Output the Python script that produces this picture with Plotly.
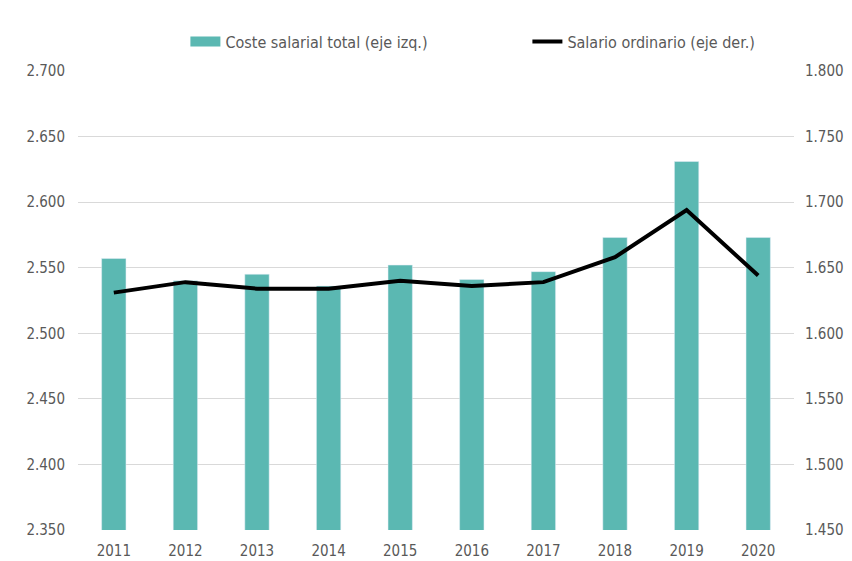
import plotly.graph_objects as go

# Data
years = ["2011", "2012", "2013", "2014", "2015", "2016", "2017", "2018", "2019", "2020"]
coste_salarial = [2.557, 2.540, 2.545, 2.536, 2.552, 2.541, 2.547, 2.573, 2.631, 2.573]
salario_ordinario = [1.631, 1.639, 1.634, 1.634, 1.640, 1.636, 1.639, 1.658, 1.694, 1.644]

left_ticks = [2.35, 2.40, 2.45, 2.50, 2.55, 2.60, 2.65, 2.70]
right_ticks = [1.45, 1.50, 1.55, 1.60, 1.65, 1.70, 1.75, 1.80]

bar_color = "#5BB8B2"
font_family = "DejaVu Sans Condensed, Open Sans, Arial, sans-serif"
grey = "#595959"

fig = go.Figure()

fig.add_trace(go.Bar(
    x=years,
    y=coste_salarial,
    name="Coste salarial total (eje izq.)",
    marker_color=bar_color,
    width=0.34,
    yaxis="y",
    showlegend=False,
))

# legend stand-in so the bar key is drawn as a wide block like the original
fig.add_trace(go.Scatter(
    x=[None], y=[None],
    name="Coste salarial total (eje izq.)",
    mode="lines",
    line=dict(color=bar_color, width=14),
    yaxis="y",
))

fig.add_trace(go.Scatter(
    x=years,
    y=salario_ordinario,
    name="Salario ordinario (eje der.)",
    mode="lines",
    line=dict(color="black", width=4),
    yaxis="y2",
))

fig.update_layout(
    width=852,
    height=561,
    plot_bgcolor="white",
    paper_bgcolor="white",
    font=dict(family=font_family, size=16, color=grey),
    margin=dict(l=70, r=66, t=63, b=39, autoexpand=False),
    showlegend=True,
    legend=dict(
        orientation="h",
        x=0.15, xanchor="left",
        yref="container",
        y=0.94, yanchor="middle",
        font=dict(size=16, color=grey),
        traceorder="normal",
        entrywidth=297,
        entrywidthmode="pixels",
    ),
    xaxis=dict(
        showgrid=False,
        showline=False,
        ticks="",
        tickfont=dict(size=15, color=grey),
        ticklabelstandoff=10,
    ),
    yaxis=dict(
        range=[2.35, 2.70],
        tickvals=left_ticks,
        ticktext=[f"{v:.3f}" for v in left_ticks],
        showgrid=True,
        gridcolor="#D9D9D9",
        gridwidth=1,
        zeroline=False,
        tickfont=dict(size=15, color=grey),
        ticklabelstandoff=12,
    ),
    yaxis2=dict(
        range=[1.45, 1.80],
        tickvals=right_ticks,
        ticktext=[f"{v:.3f}" for v in right_ticks],
        overlaying="y",
        side="right",
        showgrid=False,
        zeroline=False,
        tickfont=dict(size=15, color=grey),
        ticklabelstandoff=10,
    ),
)

fig.write_html("out.html")
